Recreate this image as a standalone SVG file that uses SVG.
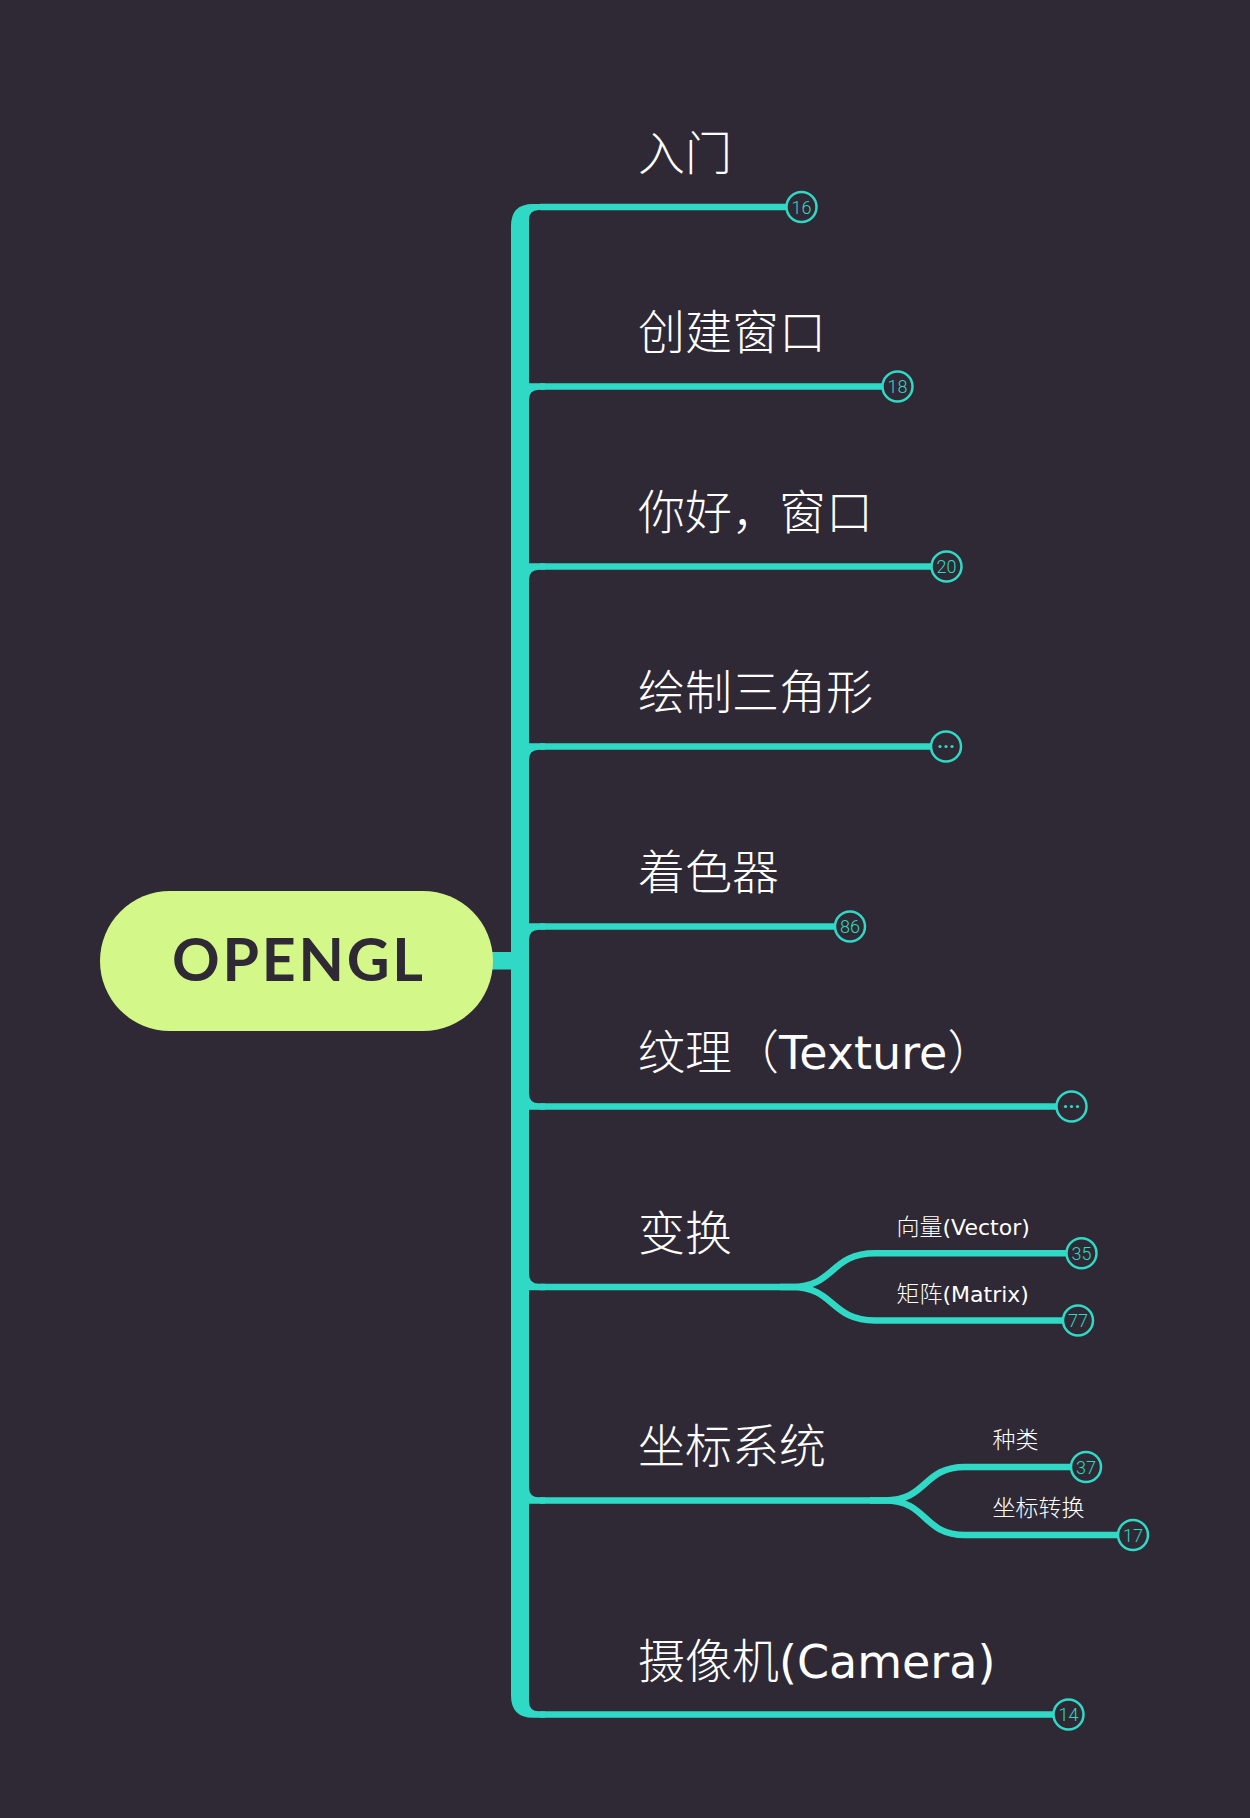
<svg xmlns="http://www.w3.org/2000/svg" width="1250" height="1818" viewBox="0 0 1250 1818">
<style>
.bg{fill:#2e2935}
.ln{fill:none;stroke:#30d9c5;stroke-width:6.5}
.tk{fill:#30d9c5}
.badge{fill:#2e2935;stroke:#30d9c5;stroke-width:2.5}
.num{font-family:Roboto,'Liberation Sans',sans-serif;font-weight:300;font-size:18px;fill:#30d9c5;text-anchor:middle}
.dot{fill:#30d9c5}
.lbl{font-family:'Noto Sans CJK SC',sans-serif;font-weight:300;font-size:47px;fill:#ffffff}
.sub{font-family:'Noto Sans CJK SC',sans-serif;font-weight:300;font-size:23px;fill:#ffffff}
.lat{font-family:'DejaVu Sans',sans-serif;font-weight:400}
.lbl .lat{font-size:46px}
.sub .lat{font-size:22px}
.root{font-family:Lato,'DejaVu Sans',sans-serif;font-weight:700;font-size:59px;fill:#2e2935}
</style>
<rect class="bg" x="0" y="0" width="1250" height="1818"/>

<g id="connectors">
  <rect class="tk" x="490" y="952" width="24" height="17.5"/>
  <path class="tk" d="M511 1695.5 L511 226 Q511 204 533 204 L545 204 L545 210 L539 210 Q529 210 529 220
    L529 383.25 L545 383.25 L545 389.75 L539 389.75 Q529 389.75 529 399.75
    L529 563.25 L545 563.25 L545 569.75 L539 569.75 Q529 569.75 529 579.75
    L529 743.25 L545 743.25 L545 749.75 L539 749.75 Q529 749.75 529 759.75
    L529 923.25 L545 923.25 L545 929.75 L539 929.75 Q529 929.75 529 939.75
    L529 1093.25 Q529 1103.25 539 1103.25 L545 1103.25 L545 1109.75 L529 1109.75
    L529 1273.75 Q529 1283.75 539 1283.75 L545 1283.75 L545 1290.25 L529 1290.25
    L529 1487.25 Q529 1497.25 539 1497.25 L545 1497.25 L545 1503.75 L529 1503.75
    L529 1701.25 Q529 1711.25 539 1711.25 L545 1711.25 L545 1717.75 L533 1717.75 Q511 1717.75 511 1695.5 Z"/>
  <path class="ln" d="M540 207 L790 207"/>
  <path class="ln" d="M540 386.5 L885 386.5"/>
  <path class="ln" d="M540 566.5 L935 566.5"/>
  <path class="ln" d="M540 746.5 L935 746.5"/>
  <path class="ln" d="M540 926.5 L838 926.5"/>
  <path class="ln" d="M540 1106.5 L1060 1106.5"/>
  <path class="ln" d="M540 1287 L792 1287 C835 1287 830 1253.3 875 1253.3 L1070 1253.3"/>
  <path class="ln" d="M780 1287 L792 1287 C835 1287 830 1320.5 875 1320.5 L1066 1320.5"/>
  <path class="ln" d="M540 1500.5 L885 1500.5 C928 1500.5 922 1467 965 1467 L1074 1467"/>
  <path class="ln" d="M870 1500.5 L885 1500.5 C928 1500.5 922 1535 965 1535 L1121 1535"/>
  <path class="ln" d="M540 1714.5 L1056 1714.5"/>
</g>

<g id="root">
  <rect x="100" y="891" width="393" height="140" rx="70" ry="70" fill="#d3f788"/>
  <text class="root" x="172" y="981" textLength="251" lengthAdjust="spacing">OPENGL</text>
</g>

<g id="n1">
  <text class="lbl" x="638" y="169.5">入门</text>
  <circle class="badge" cx="801.5" cy="207" r="15"/>
  <text class="num" x="801.5" y="213.5">16</text>
</g>
<g id="n2">
  <text class="lbl" x="638" y="349">创建窗口</text>
  <circle class="badge" cx="897.5" cy="386.5" r="15"/>
  <text class="num" x="897.5" y="393">18</text>
</g>
<g id="n3">
  <text class="lbl" x="638" y="529">你好，窗口</text>
  <circle class="badge" cx="946.5" cy="566.5" r="15"/>
  <text class="num" x="946.5" y="573">20</text>
</g>
<g id="n4">
  <text class="lbl" x="638" y="709">绘制三角形</text>
  <circle class="badge" cx="946" cy="746.5" r="15"/>
  <circle class="dot" cx="940" cy="746.5" r="1.6"/>
  <circle class="dot" cx="946" cy="746.5" r="1.6"/>
  <circle class="dot" cx="952" cy="746.5" r="1.6"/>
</g>
<g id="n5">
  <text class="lbl" x="638" y="889">着色器</text>
  <circle class="badge" cx="850" cy="926.5" r="15"/>
  <text class="num" x="850" y="933">86</text>
</g>
<g id="n6">
  <text class="lbl" x="638" y="1069">纹理（<tspan class="lat">Texture</tspan>）</text>
  <circle class="badge" cx="1071.5" cy="1106.5" r="15"/>
  <circle class="dot" cx="1065.5" cy="1106.5" r="1.6"/>
  <circle class="dot" cx="1071.5" cy="1106.5" r="1.6"/>
  <circle class="dot" cx="1077.5" cy="1106.5" r="1.6"/>
</g>
<g id="n7">
  <text class="lbl" x="638" y="1250">变换</text>
</g>
<g id="n7a">
  <text class="sub" x="896.5" y="1235">向量<tspan class="lat">(Vector)</tspan></text>
  <circle class="badge" cx="1081.5" cy="1253.3" r="15"/>
  <text class="num" x="1081.5" y="1259.8">35</text>
</g>
<g id="n7b">
  <text class="sub" x="896.5" y="1302">矩阵<tspan class="lat">(Matrix)</tspan></text>
  <circle class="badge" cx="1078" cy="1320.5" r="15"/>
  <text class="num" x="1078" y="1327">77</text>
</g>
<g id="n8">
  <text class="lbl" x="638" y="1463">坐标系统</text>
</g>
<g id="n8a">
  <text class="sub" x="992.5" y="1448">种类</text>
  <circle class="badge" cx="1086" cy="1467" r="15"/>
  <text class="num" x="1086" y="1473.5">37</text>
</g>
<g id="n8b">
  <text class="sub" x="992.5" y="1516">坐标转换</text>
  <circle class="badge" cx="1133" cy="1535" r="15"/>
  <text class="num" x="1133" y="1541.5">17</text>
</g>
<g id="n9">
  <text class="lbl" x="638" y="1677.5">摄像机<tspan class="lat">(Camera)</tspan></text>
  <circle class="badge" cx="1068.5" cy="1714.5" r="15"/>
  <text class="num" x="1068.5" y="1721">14</text>
</g>
</svg>
